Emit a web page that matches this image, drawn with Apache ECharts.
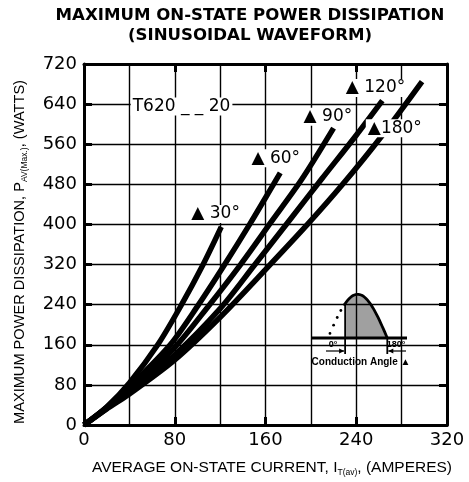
<!DOCTYPE html>
<html><head><meta charset="utf-8">
<script src="https://cdn.jsdelivr.net/npm/echarts@6/dist/echarts.min.js"></script>
<style>html,body{margin:0;padding:0;background:#fff}#c{width:469px;height:482px}</style>
</head><body><div id="c"></div>
<script>
// ---- data ----
const titleLines = ['MAXIMUM ON-STATE POWER DISSIPATION', '(SINUSOIDAL WAVEFORM)'];
const xTickValues = [0, 80, 160, 240, 320];
const yTickValues = [0, 80, 160, 240, 320, 400, 480, 560, 640, 720];
// [average current (A), power (W)]
const curve30  = [[0,0],[20,36],[40,84],[65,160],[86,240],[105,320],[121,395]];
const curve60  = [[0,0],[20,35],[40,76],[76,160],[101,240],[124,320],[146,400],[167,480],[173,503]];
const curve90  = [[0,0],[20,34],[40,72],[80,155],[110,238],[138,320],[165,405],[192,490],[220,592]];
const curve120 = [[0,0],[20,33],[40,68],[80,140],[120,232],[150,318],[180,405],[210,492],[240,578],[263,647]];
const curve180 = [[0,0],[20,32],[40,62],[80,130],[120,215],[160,310],[197,400],[228,480],[262,575],[298,685]];
const curveNames = ['30°','60°','90°','120°','180°'];
const curveLabelText = ['▲ 30°','▲ 60°','▲ 90°','▲ 120°','▲180°'];
const curveLabelAt = [[116,421],[169,532],[215,615],[257,672],[274,592]];
const deviceLabel = 'T620 _ _ 20';
const deviceLabelAt = [86,635];
const xName = ['AVERAGE ON-STATE CURRENT, I', 'T(av)', ', (AMPERES)'];
const yName = ['MAXIMUM POWER DISSIPATION, P', 'AV(Max.)', ', (WATTS)'];
const insetTexts = ['0°', '180°', 'Conduction Angle ▲'];

// ---- chart ----
const FONT = '"Liberation Sans", Arial, Helvetica, sans-serif';
const DFONT = '"DejaVu Sans", sans-serif';
const chart = echarts.init(document.getElementById('c'), null, {renderer: 'canvas'});
const curves = [curve30, curve60, curve90, curve120, curve180];

function axisCommon(extra) {
  return Object.assign({
    type: 'value',
    axisLine: {show: true, onZero: false, lineStyle: {color: '#000', width: 3}},
    axisTick: {show: true, inside: true, length: 8, lineStyle: {color: '#000', width: 3}},
  }, extra);
}

const option = {
  animation: false,
  backgroundColor: '#fff',
  grid: {left: 84, right: 22, top: 64, bottom: 57},
  xAxis: [
    axisCommon({
      position: 'bottom', min: 0, max: 320, interval: 80,
      axisLabel: {fontSize: 18, color: '#000', margin: 6, fontFamily: DFONT,
        formatter: v => xTickValues.includes(v) ? String(v) : ''},
      splitLine: {show: true, lineStyle: {color: '#000', width: 1.4}},
      minorTick: {show: false, splitNumber: 2},
      minorSplitLine: {show: true, lineStyle: {color: '#000', width: 1.4}}
    }),
    axisCommon({
      position: 'top', min: 0, max: 320, interval: 80,
      axisLabel: {show: false}, splitLine: {show: false}
    })
  ],
  yAxis: [
    axisCommon({
      position: 'left', min: 0, max: 720, interval: 80,
      axisLabel: {fontSize: 18, color: '#000', margin: 7, fontFamily: DFONT,
        formatter: v => yTickValues.includes(v) ? String(v) : ''},
      splitLine: {show: true, lineStyle: {color: '#000', width: 1.4}}
    }),
    axisCommon({
      position: 'right', min: 0, max: 720, interval: 80,
      axisLabel: {show: false}, splitLine: {show: false}
    })
  ],
  series: curves.map((c, i) => ({
    name: curveNames[i], type: 'line', data: c, smooth: 0.3,
    symbol: 'none', xAxisIndex: 0, yAxisIndex: 0, z: 3,
    lineStyle: {color: '#000', width: 5.5, cap: 'butt'}
  })),
  graphic: []
};

function richName(parts, size) {
  return {
    text: '{a|' + parts[0] + '}{s|' + parts[1] + '}{a|' + parts[2] + '}',
    rich: {
      a: {fontSize: size, fill: '#000', fontFamily: FONT, lineHeight: 18},
      s: {fontSize: 8.5, fill: '#000', fontFamily: FONT, lineHeight: 18, verticalAlign: 'bottom', padding: [7, 0, 0, 0]}
    },
    align: 'center', verticalAlign: 'middle'
  };
}

// ---- inset: conduction-angle sketch (decorative) ----
(function () {
  const x0 = 328, x180 = 387.3, yb = 338, amp = 43.7;
  const px = th => x0 + (x180 - x0) * th / 180;
  const py = th => yb - amp * Math.sin(th * Math.PI / 180);
  const start = 52;
  const curvePts = [];
  for (let th = start; th <= 180; th += 4) curvePts.push([px(th), py(th)]);
  curvePts.push([px(180), yb]);
  const fillPts = [[px(start), yb]].concat(curvePts);
  const dots = [];
  for (let th = 6; th < start; th += 11) dots.push({type: 'circle', shape: {cx: px(th), cy: py(th), r: 1.4}, style: {fill: '#000'}});
  const children = [
    {type: 'rect', shape: {x: 306, y: 284, width: 108, height: 84}, style: {fill: '#fff'}},
    {type: 'polygon', shape: {points: fillPts}, style: {fill: '#a0a0a0'}},
    {type: 'polyline', shape: {points: curvePts}, style: {stroke: '#000', lineWidth: 2.8, fill: null}},
    {type: 'line', shape: {x1: px(start), y1: py(start), x2: px(start), y2: 354}, style: {stroke: '#000', lineWidth: 1.8}},
    {type: 'line', shape: {x1: x180, y1: yb, x2: x180, y2: 354}, style: {stroke: '#000', lineWidth: 1.8}},
    {type: 'line', shape: {x1: 312, y1: yb, x2: 407, y2: yb}, style: {stroke: '#000', lineWidth: 2.8}},
    {type: 'line', shape: {x1: 326, y1: 351, x2: px(start) - 1, y2: 351}, style: {stroke: '#000', lineWidth: 1.2}},
    {type: 'polygon', shape: {points: [[px(start) - 1, 351], [px(start) - 6, 348.5], [px(start) - 6, 353.5]]}, style: {fill: '#000'}},
    {type: 'line', shape: {x1: 406, y1: 351, x2: x180 + 1, y2: 351}, style: {stroke: '#000', lineWidth: 1.2}},
    {type: 'polygon', shape: {points: [[x180 + 1, 351], [x180 + 6, 348.5], [x180 + 6, 353.5]]}, style: {fill: '#000'}},
    {type: 'text', x: 333, y: 345, style: {text: insetTexts[0], font: 'bold 9px ' + FONT, fill: '#000', align: 'center', verticalAlign: 'middle'}},
    {type: 'text', x: 396, y: 345, style: {text: insetTexts[1], font: 'bold 9px ' + FONT, fill: '#000', align: 'center', verticalAlign: 'middle'}},
    {type: 'text', x: 361, y: 362, style: {text: insetTexts[2], font: 'bold 10px ' + FONT, fill: '#000', align: 'center', verticalAlign: 'middle'}}
  ].concat(dots);
  option.graphic.push({type: 'group', z: 20, children: children});
  option.graphic.push({type: 'text', x: 250, y: 16, z: 20,
    style: {text: titleLines[0], font: 'bold 16.6px ' + DFONT, fill: '#000', align: 'center', verticalAlign: 'middle'}});
  option.graphic.push({type: 'text', x: 250, y: 36, z: 20,
    style: {text: titleLines[1], font: 'bold 16.6px ' + DFONT, fill: '#000', align: 'center', verticalAlign: 'middle'}});
  option.graphic.push({type: 'text', x: 272, y: 468, z: 20, style: richName(xName, 15.5)});
  option.graphic.push({type: 'text', x: 20, y: 252, z: 20, rotation: Math.PI / 2, style: richName(yName, 14.6)});
})();

chart.setOption(option);

// curve labels placed through the chart's own scales
const labelItems = curveLabelText.map((t, i) => [t, curveLabelAt[i]]).concat([[deviceLabel, deviceLabelAt]]);
labelItems.forEach(([t, at]) => {
  const p = chart.convertToPixel({gridIndex: 0}, at);
  option.graphic.push({type: 'text', x: p[0], y: p[1], z: 15,
    style: {text: t, font: '17px ' + DFONT, fill: '#000', align: 'center', verticalAlign: 'middle',
      backgroundColor: '#fff', padding: [1, 2, 0, 2]}});
});
chart.setOption({graphic: option.graphic});
</script>
</body></html>
